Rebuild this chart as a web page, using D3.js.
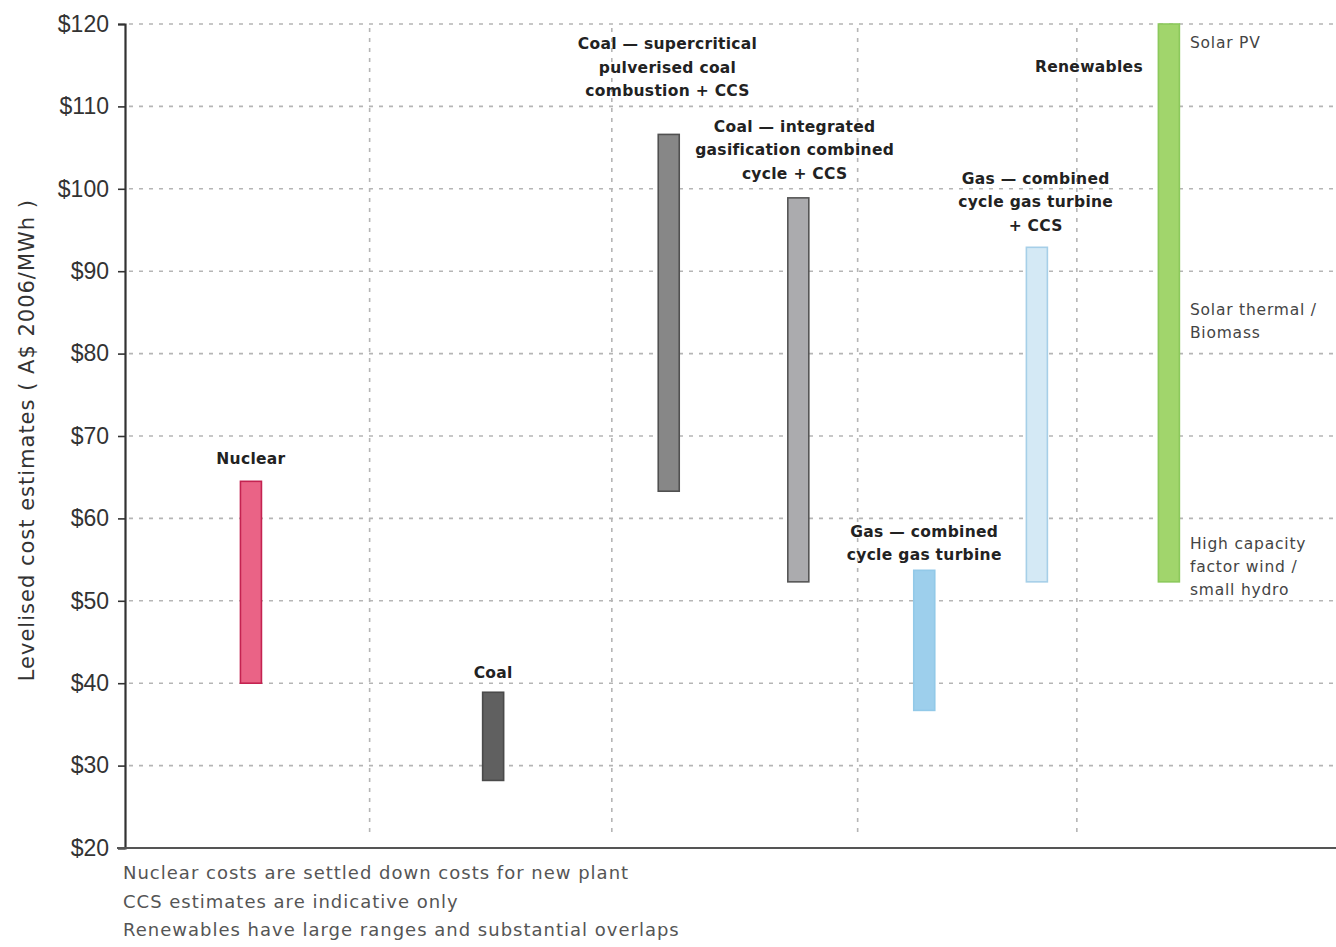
<!DOCTYPE html>
<html>
<head>
<meta charset="utf-8">
<script src="https://cdn.jsdelivr.net/npm/d3@7"></script>
<style>
  html, body { margin: 0; padding: 0; background: #fff; }
  svg { display: block; }
</style>
</head>
<body>
<svg id="chart" width="1336" height="947"></svg>
<script>
// ---------- data ----------
const categories = ["Nuclear", "Coal", "Coal SC PCC + CCS", "Coal IGCC + CCS", "Gas CCGT", "Gas CCGT + CCS", "Renewables"];
const lowValues  = [40, 28.2, 63.3, 52.3, 36.7, 52.3, 52.3];
const highValues = [64.5, 38.9, 106.6, 98.9, 53.7, 92.9, 120];
const yTicks = [20, 30, 40, 50, 60, 70, 80, 90, 100, 110, 120];
const tickLabels = ["$20", "$30", "$40", "$50", "$60", "$70", "$80", "$90", "$100", "$110", "$120"];
const barLabels = [
  ["Nuclear"],
  ["Coal"],
  ["Coal \u2014 supercritical", "pulverised coal", "combustion + CCS"],
  ["Coal \u2014 integrated", "gasification combined", "cycle + CCS"],
  ["Gas \u2014 combined", "cycle gas turbine"],
  ["Gas \u2014 combined", "cycle gas turbine", "+ CCS"],
  ["Renewables"]
];
const renewableNotes = [
  { value: 117.7, lines: ["Solar PV"] },
  { value: 85.4, lines: ["Solar thermal /", "Biomass"] },
  { value: 57.0, lines: ["High capacity", "factor wind /", "small hydro"] }
];
const footnotes = [
  "Nuclear costs are settled down costs for new plant",
  "CCS estimates are indicative only",
  "Renewables have large ranges and substantial overlaps"
];
const yTitle = "Levelised cost estimates ( A$ 2006/MWh )";

// ---------- layout (x positions in percent of plot width; label anchors in $) ----------
const barPos = [10.4, 30.4, 44.9, 55.6, 66.0, 75.3, 86.2];
const groupDividers = [20.2, 40.2, 60.5, 78.6];
const labelX = [10.4, 30.4, 44.8, 55.3, 66.0, 75.2, 79.6];
const labelValue = [67.3, 41.3, 111.9, 101.9, 55.6, 95.6, 114.8];

const fills   = ["#ea6386", "#606060", "#878787", "#ababae", "#9dcfec", "#d4e9f5", "#a1d56c"];
const strokes = ["#c42351", "#4a4a4a", "#505050", "#555555", "#92c9e8", "#a6cfe8", "#8cc95c"];

const svg = d3.select("#chart");
const margin = { left: 125, right: 0, top: 24, bottom: 99 };
const W = 1336, H = 947;

const x = d3.scaleLinear().domain([0, 100]).range([margin.left, W - margin.right]);
const y = d3.scaleLinear().domain([20, 120]).range([H - margin.bottom, margin.top]);

// grid
const grid = svg.append("g");
grid.selectAll("line.h").data(yTicks.slice(1)).join("line")
  .attr("x1", x(0) + 4).attr("x2", W)
  .attr("y1", d => y(d)).attr("y2", d => y(d))
  .attr("stroke", "#b5b5b5").attr("stroke-width", 1.6).attr("stroke-dasharray", "4,6");
grid.selectAll("line.v").data(groupDividers).join("line")
  .attr("x1", d => x(d)).attr("x2", d => x(d))
  .attr("y1", y(120) + 4).attr("y2", y(21.5))
  .attr("stroke", "#b5b5b5").attr("stroke-width", 1.6).attr("stroke-dasharray", "4,6");

// y axis
const yAxis = d3.axisLeft(y).tickValues(yTicks).tickFormat((d, i) => tickLabels[i]).tickSize(7).tickPadding(9);
const ga = svg.append("g").attr("transform", `translate(${x(0)},0)`).call(yAxis);
ga.select(".domain").attr("stroke", "#333").attr("stroke-width", 2.2);
ga.selectAll(".tick line").attr("stroke", "#333").attr("stroke-width", 1.6);
ga.selectAll(".tick text").attr("font-family", "'Liberation Sans Narrow', 'Liberation Sans', Arial, sans-serif")
  .attr("font-size", 23).attr("fill", "#333");

// x baseline
svg.append("line").attr("x1", x(0) - 8).attr("x2", W).attr("y1", y(20)).attr("y2", y(20))
  .attr("stroke", "#555").attr("stroke-width", 2);

// bars
const barW = 21;
svg.append("g").selectAll("rect").data(categories).join("rect")
  .attr("x", (d, i) => x(barPos[i]) - barW / 2)
  .attr("y", (d, i) => y(highValues[i]))
  .attr("width", barW)
  .attr("height", (d, i) => y(lowValues[i]) - y(highValues[i]))
  .attr("fill", (d, i) => fills[i])
  .attr("stroke", (d, i) => strokes[i])
  .attr("stroke-width", 1.6);

// bar labels
const lf = "'DejaVu Sans', sans-serif";
categories.forEach((c, i) => {
  const lines = barLabels[i];
  const cx = x(labelX[i]);
  const lastY = y(labelValue[i]);
  const lh = 23.5;
  const t = svg.append("text")
    .attr("font-family", lf).attr("font-size", 15.5).attr("font-weight", "bold")
    .attr("fill", "#222").attr("text-anchor", "middle").attr("letter-spacing", 0.3);
  lines.forEach((ln, k) => {
    t.append("tspan").attr("x", cx)
      .attr("y", lastY - (lines.length - 1 - k) * lh + 5.5)
      .text(ln);
  });
});

// renewable notes
renewableNotes.forEach(n => {
  const t = svg.append("text")
    .attr("font-family", lf).attr("font-size", 15.5)
    .attr("fill", "#444").attr("text-anchor", "start").attr("letter-spacing", 0.8);
  n.lines.forEach((ln, k) => {
    t.append("tspan").attr("x", x(86.2) + 21)
      .attr("y", y(n.value) + 5.5 + k * 23).text(ln);
  });
});

// y title
svg.append("text")
  .attr("transform", `translate(34, ${y(69.5)}) rotate(-90)`)
  .attr("text-anchor", "middle")
  .attr("font-family", lf).attr("font-size", 21).attr("letter-spacing", 1)
  .attr("fill", "#333").text(yTitle);

// footnotes
svg.append("g").selectAll("text").data(footnotes).join("text")
  .attr("x", x(0) - 2).attr("y", (d, i) => 879 + i * 28.5)
  .attr("font-family", lf).attr("font-size", 18).attr("letter-spacing", 1)
  .attr("fill", "#555")
  .text(d => d);
</script>
</body>
</html>
